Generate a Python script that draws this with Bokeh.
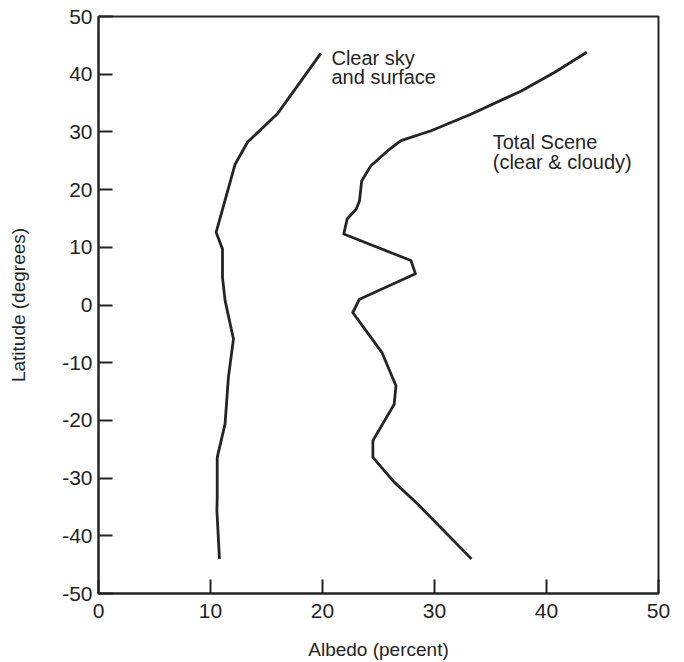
from bokeh.plotting import figure
from bokeh.models import Label, FixedTicker, Range1d
from bokeh.embed import file_html
from bokeh.resources import INLINE

# ---- data ----
clear_lat = [43.6, 33.2, 28.2, 24.4, 12.6, 9.7, 4.8, 0.8, -5.9, -12.5, -20.6, -26.4, -33.3, -35.6, -44.0]
clear_alb = [19.85, 16.0, 13.3, 12.2, 10.5, 11.07, 11.07, 11.3, 12.05, 11.6, 11.3, 10.6, 10.6, 10.57, 10.8]

total_lat = [43.8, 40.3, 37.1, 33.1, 30.2, 28.5, 26.7, 24.1, 21.5, 18.0, 16.6, 14.9, 12.3,
             7.7, 5.4, 1.0, -1.3, -8.2, -14.0, -17.2, -23.5, -26.4, -30.7, -34.5, -44.0]
total_alb = [43.6, 40.7, 37.75, 33.3, 29.7, 27.0, 25.8, 24.3, 23.5, 23.3, 23.0, 22.2, 21.9,
             27.9, 28.3, 23.3, 22.7, 25.3, 26.56, 26.4, 24.5, 24.5, 26.4, 28.5, 33.3]

x_ticks = [0, 10, 20, 30, 40, 50]
y_ticks = [-50, -40, -30, -20, -10, 0, 10, 20, 30, 40, 50]

INK = "#242424"
FONT = "Liberation Sans"

p = figure(width=684, height=662, output_backend="svg", toolbar_location=None,
           x_range=Range1d(0, 50), y_range=Range1d(-50, 50),
           min_border_left=98, min_border_right=26, min_border_top=16, min_border_bottom=69)
p.background_fill_color = "white"
p.border_fill_color = "white"
p.grid.visible = False
p.outline_line_color = INK
p.outline_line_width = 2

p.xaxis.ticker = FixedTicker(ticks=x_ticks)
p.yaxis.ticker = FixedTicker(ticks=y_ticks)
p.xaxis.major_label_overrides = {t: str(t) for t in x_ticks}
p.yaxis.major_label_overrides = {t: str(t) for t in y_ticks}
for ax in (p.xaxis[0], p.yaxis[0]):
    ax.axis_line_color = INK
    ax.axis_line_width = 2
    ax.major_tick_in = 14
    ax.major_tick_out = 0
    ax.major_tick_line_color = INK
    ax.major_tick_line_width = 2
    ax.minor_tick_line_color = None
    ax.major_label_text_font = FONT
    ax.major_label_text_font_size = "21px"
    ax.major_label_text_color = INK
    ax.axis_label_text_font = FONT
    ax.axis_label_text_font_size = "19px"
    ax.axis_label_text_font_style = "normal"
    ax.axis_label_text_color = INK

p.xaxis.axis_label = "Albedo (percent)"
p.yaxis.axis_label = "Latitude (degrees)"
p.xaxis.major_label_standoff = 10
p.xaxis.axis_label_standoff = 18
p.yaxis.major_label_standoff = 6
p.yaxis.axis_label_standoff = 30

p.line(clear_alb, clear_lat, line_color=INK, line_width=2.8, line_join="round")
p.line(total_alb, total_lat, line_color=INK, line_width=2.8, line_join="round")

for txt, x, y in [("Clear sky", 20.8, 42.8), ("and surface", 20.8, 39.6),
                  ("Total Scene", 35.2, 28.2), ("(clear & cloudy)", 35.2, 24.8)]:
    p.add_layout(Label(x=x, y=y, text=txt, text_font=FONT, text_font_size="20px",
                       text_color=INK, text_baseline="alphabetic", text_align="left"))

open("out.html", "w").write(file_html(p, INLINE))
